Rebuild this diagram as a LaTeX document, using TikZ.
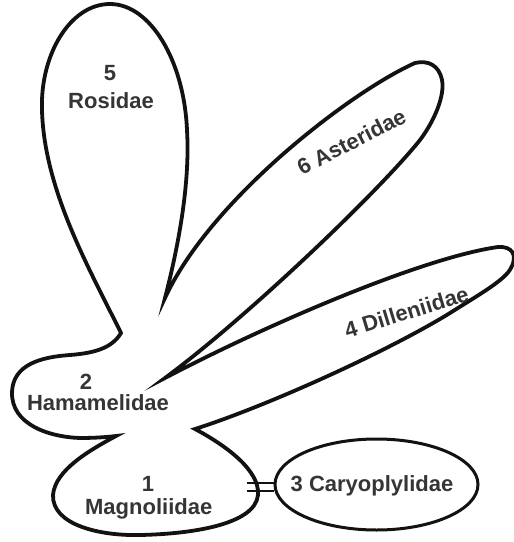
\documentclass[tikz,border=0pt]{standalone}
\usepackage{fontspec}
\setmainfont{Liberation Sans}
\usetikzlibrary{shapes.geometric}
\definecolor{txt}{HTML}{353535}
\definecolor{ink}{HTML}{141210}
\tikzset{
  outline/.style={draw=ink, line width=3.8pt, line join=miter, miter limit=25},
  lab/.style={text=txt, font=\fontsize{22}{26}\selectfont\bfseries, inner sep=0pt},
  ovalbox/.style={ellipse, draw=ink, line width=3pt, minimum width=203pt, minimum height=91pt, inner sep=0pt},
  link/.style={draw=ink, line width=2pt}
}
\begin{document}
\begin{tikzpicture}[x=1pt, y=-1pt]
\path[use as bounding box, fill=white] (0,0) rectangle (514,542);
% main outline
\draw[outline]
  (121,333) .. controls (112,348) and (95,353) .. (70,355)
  .. controls (40,357) and (13,365) .. (12,392)
  .. controls (11,425) and (50,437) .. (80,438)
  .. controls (95,438) and (108,437) .. (116,436)
  .. controls (90,450) and (55,470) .. (53,495)
  .. controls (52,525) and (100,536) .. (140,535)
  .. controls (190,534) and (255,525) .. (258,495)
  .. controls (260,470) and (225,445) .. (195,429)
  .. controls (270,405) and (390,350) .. (450,313)
  .. controls (480,294) and (505,280) .. (511,268)
  .. controls (518,255) and (512,246) .. (498,247)
  .. controls (420,258) and (260,328) .. (165,378)
  .. controls (250,315) and (380,190) .. (420,140)
  .. controls (435,120) and (445,95) .. (442,80)
  .. controls (439,65) and (428,60) .. (415,63)
  .. controls (350,92) and (210,200) .. (165,298)
  .. controls (180,240) and (190,180) .. (187,130)
  .. controls (184,60) and (150,4) .. (110,4)
  .. controls (70,4) and (40,55) .. (42,110)
  .. controls (44,190) and (90,270) .. (121,333) -- cycle;
% Caryoplylidae
\node[ovalbox] (cary) at (376.5,484.5) {};
\coordinate (mr) at (247,487);
\draw[link] ([yshift=4pt]mr) -- ([yshift=4pt]mr -| cary.west);
\draw[link] ([yshift=-4pt]mr) -- ([yshift=-4pt]mr -| cary.west);
% labels
\node[lab, anchor=base] (n5) at (110,80) {5};
\node[lab, anchor=base] (t5) at (111,108) {Rosidae};
\node[lab, anchor=base] (n2) at (86,389) {2};
\node[lab, anchor=base] (t2) at (98,410) {Hamamelidae};
\node[lab, anchor=base] (n1) at (148,491.5) {1};
\node[lab, anchor=base] (t1) at (148.7,514) {Magnoliidae};
\node[lab, anchor=base] (t3) at (372,491.7) {3 Caryoplylidae};
\node[lab, rotate=27] (t6) at (351.5,141.5) {6 Asteridae};
\node[lab, rotate=17] (t4) at (406.5,312) {4 Dilleniidae};
\end{tikzpicture}
\end{document}
